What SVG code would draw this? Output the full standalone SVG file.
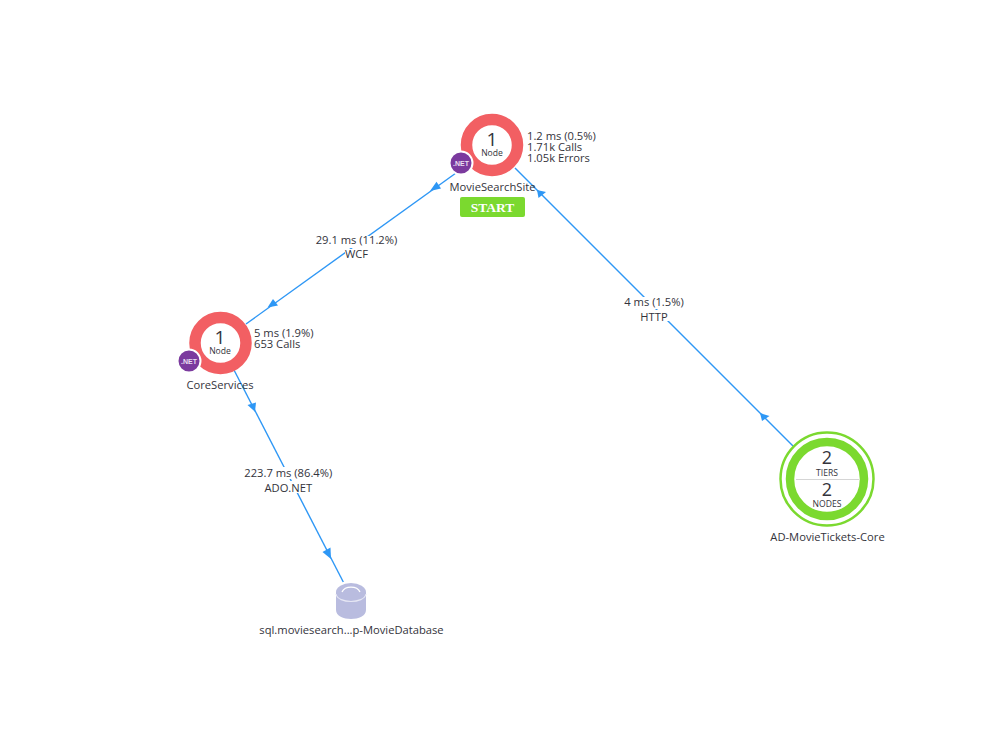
<svg xmlns="http://www.w3.org/2000/svg" width="1000" height="750" viewBox="0 0 1000 750">
<style>
text{font-family:"Open Sans","Noto Sans","Liberation Sans",sans-serif;fill:#33333b;font-size:11.2px}
.m{text-anchor:middle}
.c{fill:none;stroke:#2e97f5;stroke-width:1.4}
.a{fill:#2e97f5}
.n{font-size:19px}
.s{font-size:8.6px}
.r{fill:none;stroke:#f25f63;stroke-width:11.5}
.b{fill:#7b3a9e;stroke:#fff;stroke-width:2}
.bt{font-size:7px;font-weight:700;fill:#e8dff0;text-anchor:middle;font-family:"Liberation Sans",sans-serif}
.g{fill:none;stroke:#7bd92f}
.w{fill:#fff}
</style>
<rect width="1000" height="750" fill="#fff"/>
<g id="connectors">
<path class="c" d="M456 173 L246 324"/>
<path class="a" d="M430 191 L436.500 181.800 L441 188.500Z"/>
<path class="a" d="M267.500 307.500 L273 299 L278 305.500Z"/>
<path class="c" d="M515 168 L793 446"/>
<path class="a" d="M537 190 L538.500 198 L546 192Z"/>
<path class="a" d="M760 413 L762 421 L769.500 416Z"/>
<path class="c" d="M234 370 L343.300 582"/>
<path class="a" d="M255 411.700 L247.500 405 L256 402.500Z"/>
<path class="a" d="M331 559 L322.500 552 L330.500 547.500Z"/>
</g>
<g id="edge-wcf"><rect class="w" x="315" y="236" width="83" height="12"/><rect class="w" x="345" y="249" width="24" height="12"/><text class="m" x="356.500" y="244">29.1 ms (11.2%)</text><text class="m" x="356.500" y="258">WCF</text></g>
<g id="edge-http"><rect class="w" x="623" y="297" width="62" height="12"/><rect class="w" x="640" y="310" width="29" height="11"/><text class="m" x="654" y="306">4 ms (1.5%)</text><text class="m" x="654" y="321">HTTP</text></g>
<g id="edge-ado"><rect class="w" x="243" y="467" width="91" height="12"/><rect class="w" x="263" y="481" width="50" height="12"/><text class="m" x="288.300" y="477">223.7 ms (86.4%)</text><text class="m" x="288.300" y="492">ADO.NET</text></g>
<g id="MovieSearchSite">
<circle class="r" cx="492" cy="145" r="25.500"/>
<text class="m n" x="492" y="146">1</text><text class="m s" x="492" y="156">Node</text>
<circle class="b" cx="461" cy="163" r="11.500"/><text class="bt" x="461" y="166">.NET</text>
<text x="527" y="140">1.2 ms (0.5%)</text><text x="527" y="151">1.71k Calls</text><text x="527" y="162">1.05k Errors</text>
<text class="m" x="492.500" y="191">MovieSearchSite</text>
<rect x="460" y="197" width="65" height="20" rx="2" fill="#7bd92f"/>
<text class="m" x="492.500" y="212" style="font-family:'Liberation Serif',serif;font-size:13.500px;font-weight:700;fill:#fff">START</text>
</g>
<g id="CoreServices">
<circle class="r" cx="220.500" cy="343" r="25.500"/>
<text class="m n" x="220" y="344">1</text><text class="m s" x="220" y="354">Node</text>
<circle class="b" cx="189" cy="361" r="11.500"/><text class="bt" x="189" y="364">.NET</text>
<text x="254" y="337">5 ms (1.9%)</text><text x="254" y="348">653 Calls</text>
<text class="m" x="220" y="389">CoreServices</text>
</g>
<g id="AD-MovieTickets-Core">
<circle cx="827" cy="479" r="47" fill="#fff"/>
<circle class="g" cx="827" cy="479" r="46.500" stroke-width="2.500"/>
<circle class="g" cx="827" cy="479" r="37" stroke-width="8.500"/>
<text class="m n" x="827" y="464" style="font-size:18px">2</text>
<text class="m s" x="827" y="476">TIERS</text>
<path d="M796 479.500H859" stroke="#d5d5d5" stroke-width="1"/>
<text class="m n" x="827" y="496" style="font-size:18px">2</text>
<text class="m s" x="827" y="507">NODES</text>
<text class="m" x="827.500" y="541">AD-MovieTickets-Core</text>
</g>
<g id="sql-MovieDatabase">
<path d="M336 592 V610 C336 622 366 622 366 610 V592Z" fill="#b9bcdf"/>
<ellipse cx="351" cy="592" rx="15" ry="9" fill="#b9bcdf"/>
<path d="M342 592 C345 585.500 357 585.500 360 592" fill="none" stroke="#fff" stroke-width="1.300"/>
<path d="M336 594 C338 604 364 604 366 594" fill="none" stroke="#e6e7f4" stroke-width="1.200"/>
<text class="m" x="351.500" y="634">sql.moviesearch...p-MovieDatabase</text>
</g>
</svg>
